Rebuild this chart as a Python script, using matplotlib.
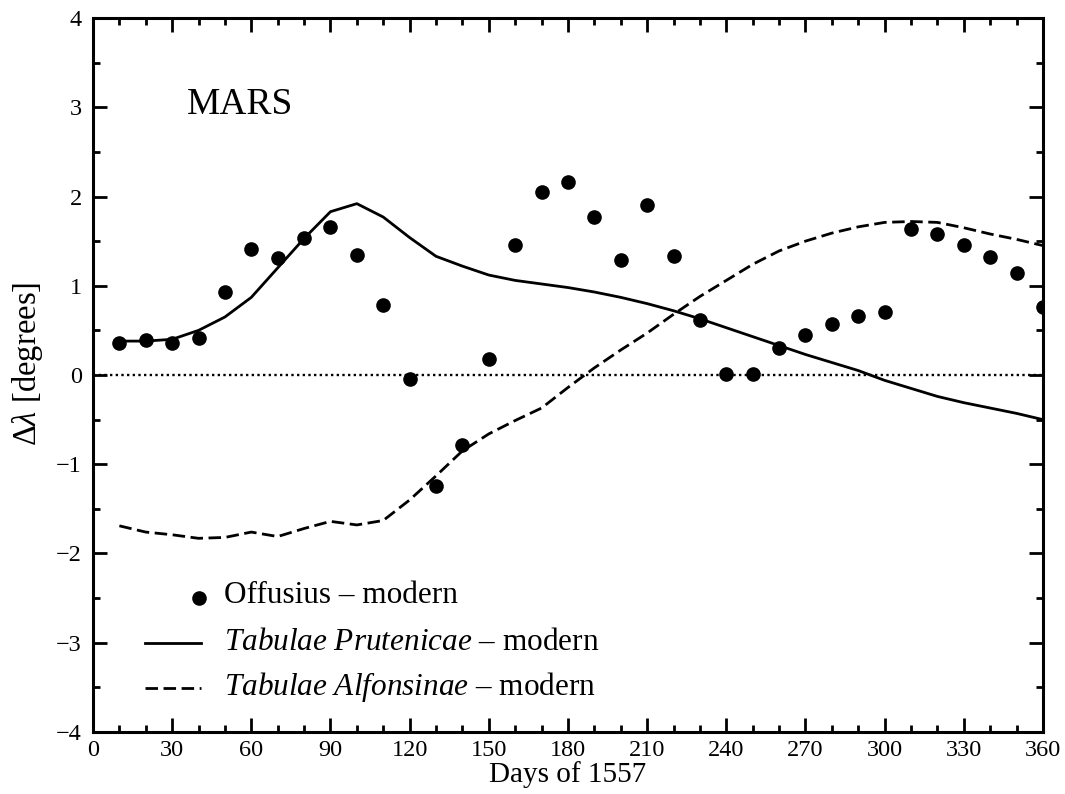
import matplotlib
matplotlib.use("Agg")
import matplotlib.pyplot as plt
from matplotlib.ticker import MultipleLocator

plt.rcParams["font.family"] = ["Liberation Serif", "DejaVu Serif"]
plt.rcParams["mathtext.fontset"] = "custom"
plt.rcParams["mathtext.rm"] = "Liberation Serif"
plt.rcParams["mathtext.it"] = "Liberation Serif:italic"

days = list(range(10, 361, 10))

# Offusius - modern (dots)
offusius = [0.36, 0.39, 0.36, 0.42, 0.93, 1.41, 1.31, 1.53, 1.66, 1.34,
            0.79, -0.04, -1.24, -0.78, 0.18, 1.46, 2.05, 2.16, 1.77, 1.29,
            1.90, 1.33, 0.62, 0.01, 0.01, 0.30, 0.45, 0.57, 0.66, 0.71,
            1.64, 1.58, 1.46, 1.32, 1.14, 0.76]

# Tabulae Prutenicae - modern (solid)
prutenicae = [0.38, 0.38, 0.40, 0.50, 0.65, 0.87, 1.20, 1.53, 1.83, 1.92,
              1.77, 1.54, 1.33, 1.22, 1.12, 1.06, 1.02, 0.98, 0.93, 0.87,
              0.80, 0.72, 0.63, 0.53, 0.43, 0.33, 0.23, 0.14, 0.05, -0.06,
              -0.15, -0.24, -0.31, -0.37, -0.43, -0.50]

# Tabulae Alfonsinae - modern (dashed)
alfonsinae = [-1.69, -1.76, -1.79, -1.83, -1.82, -1.76, -1.81, -1.72, -1.64, -1.68,
              -1.63, -1.40, -1.13, -0.85, -0.66, -0.51, -0.37, -0.14, 0.08, 0.28,
              0.47, 0.68, 0.88, 1.06, 1.24, 1.39, 1.50, 1.59, 1.66, 1.71,
              1.72, 1.71, 1.65, 1.58, 1.52, 1.45]

fig = plt.figure(figsize=(10.65, 7.94), dpi=100)
ax = fig.add_axes([0.0873, 0.0781, 0.892, 0.8992])

ax.axhline(0, color="black", linestyle=(0, (1, 1.4)), linewidth=1.7)
ax.plot(days, prutenicae, color="black", linewidth=2.0)
ax.plot(days, alfonsinae, color="black", linewidth=2.0, dashes=(4.5, 2.0))
ax.plot(days, offusius, "o", color="black", markersize=9.5)

ax.set_xlim(0, 360)
ax.set_ylim(-4, 4)
ax.xaxis.set_major_locator(MultipleLocator(30))
ax.xaxis.set_minor_locator(MultipleLocator(10))
ax.yaxis.set_major_locator(MultipleLocator(1))
ax.yaxis.set_minor_locator(MultipleLocator(0.5))
ax.tick_params(which="both", direction="in", top=True, right=True, width=2.0)
ax.tick_params(which="major", length=10, labelsize=17.5)
ax.tick_params(which="minor", length=5)
ax.tick_params(axis="x", which="major", pad=6)
ax.tick_params(axis="y", which="major", pad=8)
for s in ax.spines.values():
    s.set_linewidth(2.2)

ax.set_xlabel("Days of 1557", fontsize=21, labelpad=0)
ax.set_ylabel(r"$\Delta\lambda$ [degrees]", fontsize=23.5)
ax.yaxis.set_label_coords(-0.051, 0.515)

ax.text(35.6, 2.93, "MARS", fontsize=27)

# hand-made legend
tr = ax.transAxes
dash = "\u2013"
ax.plot([0.1116], [0.1877], "o", color="black", markersize=9.5, transform=tr)
ax.text(0.1379, 0.1807, "Offusius " + dash + " modern", fontsize=22.5, transform=tr)
ax.plot([0.0547, 0.1137], [0.1246, 0.1246], color="black", linewidth=2.0, transform=tr)
ax.text(0.1379, 0.1148, r"$\mathit{Tabulae\ Prutenicae}$ " + dash + " modern",
        fontsize=22.5, transform=tr)
ax.plot([0.0547, 0.1137], [0.0616, 0.0616], color="black", linewidth=2.0,
        dashes=(4.5, 2.0), transform=tr)
ax.text(0.1379, 0.0518, r"$\mathit{Tabulae\ Alfonsinae}$ " + dash + " modern",
        fontsize=22.5, transform=tr)

fig.savefig("out.png", dpi=100)
